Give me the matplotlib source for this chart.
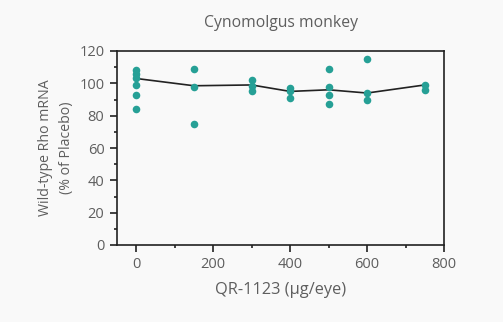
import matplotlib.pyplot as plt
from matplotlib.ticker import MultipleLocator

plt.rcParams['font.family'] = ['Open Sans', 'DejaVu Sans']

# individual animals per dose group
dose_0 = [108, 106, 103, 99, 93, 84]
dose_150 = [109, 98, 75]
dose_300 = [102, 98.5, 95]
dose_400 = [97, 95, 91]
dose_500 = [109, 98, 93, 87]
dose_600 = [115, 94, 90]
dose_750 = [99, 96]

doses = [0, 150, 300, 400, 500, 600, 750]
groups = [dose_0, dose_150, dose_300, dose_400, dose_500, dose_600, dose_750]
group_mean = [103, 98.5, 99, 95, 96, 94, 99]

bg = '#f9f9f9'
teal = '#26a096'
grey = '#5e5e5e'

fig = plt.figure(figsize=(5.03, 3.22), dpi=100, facecolor=bg)
ax = fig.add_axes([117 / 503, 1 - 245 / 322, 327 / 503, 194 / 322], facecolor=bg)

for d, vals in zip(doses, groups):
    ax.scatter([d] * len(vals), vals, s=30, color=teal, zorder=3, linewidths=0)
ax.plot(doses, group_mean, color='#222222', lw=1.2, zorder=2)

ax.set_xlim(-50, 800)
ax.set_ylim(0, 120)
ax.xaxis.set_major_locator(MultipleLocator(200))
ax.xaxis.set_minor_locator(MultipleLocator(100))
ax.yaxis.set_major_locator(MultipleLocator(20))
ax.yaxis.set_minor_locator(MultipleLocator(10))
ax.tick_params(which='both', direction='out', colors='#222222', labelcolor=grey, labelsize=10.5)
ax.tick_params(which='major', length=5, width=1.2, pad=4)
ax.tick_params(which='minor', length=2.5, width=1.2)
for s in ax.spines.values():
    s.set_linewidth(1.2)
    s.set_color('#222222')

ax.set_title('Cynomolgus monkey', color=grey, fontsize=11.3, pad=17)
ax.set_xlabel('QR-1123 (µg/eye)', color=grey, fontsize=11.8, labelpad=7)
ax.set_ylabel('Wild-type Rho mRNA\n(% of Placebo)', color=grey, fontsize=10.2, linespacing=1.6)
ax.yaxis.set_label_coords(-0.13, 0.5)

fig.savefig('out.png', dpi=100, facecolor=bg)
